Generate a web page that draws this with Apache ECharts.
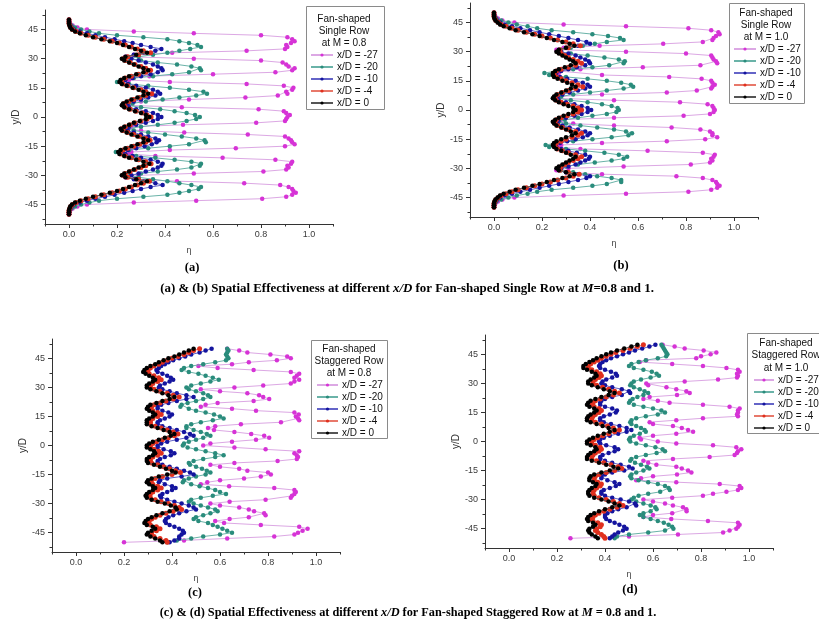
<!DOCTYPE html>
<html><head><meta charset="utf-8">
<script src="https://cdn.jsdelivr.net/npm/echarts@6/dist/echarts.min.js"></script>
<style>html,body{margin:0;padding:0;background:#fff}#c{width:819px;height:627px}</style>
</head><body><div id="c"></div>
<script>
// y/D positions (shared by all series)
const yD = [50,49,48,47,46,45,44,43,42,41,40,39,38,37,36,35,34,33,32,31,30,29,28,27,26,25,24,23,22,21,20,19,18,17,16,15,14,13,12,11,10,9,8,7,6,5,4,3,2,1,0,-1,-2,-3,-4,-5,-6,-7,-8,-9,-10,-11,-12,-13,-14,-15,-16,-17,-18,-19,-20,-21,-22,-23,-24,-25,-26,-27,-28,-29,-30,-31,-32,-33,-34,-35,-36,-37,-38,-39,-40,-41,-42,-43,-44,-45,-46,-47,-48,-49,-50];

const seriesNames = ['x/D = -27','x/D = -20','x/D = -10','x/D = -4','x/D = 0'];
const xTickLabels = [0, 0.2, 0.4, 0.6, 0.8, 1.0];
const xMinorTicks = [-0.1, 0.1, 0.3, 0.5, 0.7, 0.9, 1.1];
const yTickLabels = [-45, -30, -15, 0, 15, 30, 45];
const yMinorTicks = [-52.5, -37.5, -22.5, -7.5, 7.5, 22.5, 37.5, 52.5];

// ---- (a) Single Row, M = 0.8 : eta values at each yD ----
const aBlack = [0,0,0,0.002,0.005,0.012,0.025,0.045,0.07,0.1,
 0.135,0.17,0.2,0.225,0.25,0.275,0.3,0.325,0.28,0.235,
 0.22,0.23,0.25,0.27,0.29,0.31,0.33,0.31,0.28,0.25,
 0.23,0.215,0.21,0.22,0.24,0.265,0.29,0.31,0.33,0.31,
 0.285,0.26,0.24,0.225,0.22,0.23,0.25,0.275,0.3,0.32,
 0.335,
 0.32,0.295,0.27,0.25,0.23,0.215,0.22,0.24,0.26,0.285,
 0.31,0.33,0.31,0.285,0.26,0.235,0.215,0.205,0.21,0.23,
 0.25,0.28,0.31,0.335,0.31,0.29,0.27,0.25,0.23,0.22,
 0.235,0.28,0.325,0.3,0.275,0.25,0.225,0.2,0.17,0.135,
 0.1,0.07,0.045,0.025,0.012,0.005,0.002,0,0,0];
const aRed = [0,0,0,0.003,0.007,0.015,0.03,0.05,0.08,0.11,
 0.145,0.18,0.21,0.235,0.26,0.285,0.31,0.34,0.29,0.245,
 0.225,0.235,0.255,0.275,0.3,0.32,0.34,0.32,0.29,0.26,
 0.235,0.22,0.215,0.225,0.245,0.27,0.3,0.32,0.345,0.32,
 0.295,0.27,0.25,0.23,0.225,0.235,0.255,0.28,0.305,0.325,
 0.342,
 0.325,0.3,0.275,0.255,0.235,0.22,0.225,0.245,0.27,0.295,
 0.32,0.338,0.32,0.295,0.27,0.245,0.225,0.21,0.215,0.235,
 0.26,0.29,0.32,0.342,0.32,0.3,0.275,0.255,0.235,0.225,
 0.245,0.29,0.335,0.31,0.285,0.26,0.235,0.21,0.18,0.145,
 0.11,0.08,0.05,0.03,0.015,0.007,0.003,0,0,0];
const aBlue = [0,0,0.002,0.005,0.01,0.02,0.045,0.075,0.11,0.15,
 0.19,0.23,0.265,0.3,0.34,0.385,0.36,0.31,0.27,0.24,
 0.26,0.29,0.32,0.35,0.37,0.385,0.39,0.37,0.34,0.3,
 0.265,0.235,0.22,0.245,0.28,0.32,0.35,0.37,0.38,0.36,
 0.33,0.3,0.27,0.245,0.23,0.25,0.28,0.32,0.35,0.37,
 0.385,
 0.37,0.35,0.32,0.28,0.25,0.23,0.245,0.27,0.3,0.33,
 0.36,0.375,0.365,0.345,0.315,0.28,0.245,0.22,0.235,0.265,
 0.3,0.34,0.37,0.39,0.385,0.37,0.35,0.32,0.29,0.26,
 0.24,0.27,0.31,0.36,0.39,0.34,0.3,0.265,0.23,0.19,
 0.15,0.11,0.075,0.045,0.02,0.01,0.005,0.002,0,0];
const aTeal = [0,0,0.003,0.01,0.025,0.05,0.085,0.125,0.2,0.31,
 0.41,0.46,0.5,0.535,0.55,0.505,0.46,0.41,0.35,0.29,
 0.255,0.3,0.37,0.45,0.51,0.545,0.55,0.5,0.43,0.35,
 0.27,0.215,0.2,0.25,0.33,0.42,0.5,0.56,0.575,0.53,
 0.46,0.39,0.32,0.265,0.24,0.3,0.38,0.44,0.49,0.525,
 0.545,
 0.53,0.49,0.44,0.37,0.3,0.24,0.27,0.33,0.4,0.47,
 0.53,0.565,0.57,0.5,0.42,0.33,0.25,0.195,0.22,0.28,
 0.36,0.44,0.51,0.55,0.545,0.51,0.45,0.37,0.3,0.255,
 0.29,0.35,0.41,0.46,0.51,0.55,0.54,0.5,0.46,0.41,
 0.31,0.2,0.125,0.085,0.05,0.025,0.01,0.003,0,0];
const aMagenta = [0,0.002,0.005,0.015,0.035,0.075,0.27,0.52,0.8,0.91,
 0.93,0.94,0.925,0.905,0.91,0.9,0.74,0.43,0.27,0.235,
 0.52,0.8,0.89,0.905,0.915,0.94,0.93,0.86,0.6,0.335,
 0.26,0.25,0.42,0.74,0.895,0.935,0.93,0.905,0.91,0.87,
 0.735,0.5,0.3,0.24,0.25,0.47,0.79,0.895,0.905,0.92,
 0.91,
 0.905,0.9,0.78,0.475,0.26,0.22,0.3,0.48,0.745,0.9,
 0.915,0.925,0.93,0.94,0.9,0.695,0.42,0.26,0.25,0.36,
 0.64,0.86,0.93,0.925,0.91,0.915,0.905,0.81,0.52,0.29,
 0.235,0.28,0.45,0.73,0.88,0.915,0.93,0.935,0.945,0.93,
 0.905,0.805,0.53,0.27,0.075,0.035,0.015,0.005,0.002,0];

// ---- (b) Single Row, M = 1.0 ----
const bBlack = [0,0,0,0.002,0.006,0.015,0.025,0.04,0.065,0.09,
 0.125,0.16,0.19,0.22,0.25,0.285,0.315,0.335,0.3,0.27,
 0.26,0.27,0.285,0.3,0.315,0.33,0.34,0.32,0.295,0.27,
 0.255,0.245,0.245,0.25,0.265,0.285,0.305,0.325,0.34,0.32,
 0.3,0.28,0.26,0.25,0.245,0.255,0.27,0.29,0.31,0.33,
 0.34,
 0.33,0.31,0.29,0.27,0.255,0.245,0.25,0.26,0.28,0.3,
 0.32,0.34,0.325,0.3,0.28,0.26,0.25,0.245,0.25,0.26,
 0.28,0.3,0.32,0.34,0.33,0.315,0.3,0.285,0.27,0.26,
 0.27,0.3,0.335,0.315,0.285,0.25,0.22,0.19,0.16,0.125,
 0.09,0.065,0.04,0.025,0.015,0.006,0.002,0,0,0];
const bRed = [0,0,0,0.003,0.008,0.018,0.03,0.05,0.075,0.1,
 0.135,0.17,0.2,0.235,0.265,0.3,0.33,0.36,0.31,0.275,
 0.265,0.28,0.295,0.31,0.33,0.35,0.365,0.34,0.31,0.28,
 0.26,0.25,0.25,0.26,0.28,0.3,0.325,0.35,0.37,0.34,
 0.31,0.285,0.265,0.255,0.25,0.26,0.28,0.305,0.33,0.35,
 0.365,
 0.35,0.33,0.305,0.28,0.26,0.25,0.255,0.265,0.285,0.31,
 0.34,0.365,0.35,0.325,0.3,0.28,0.26,0.25,0.255,0.265,
 0.285,0.31,0.34,0.365,0.35,0.33,0.31,0.295,0.28,0.265,
 0.275,0.31,0.355,0.33,0.3,0.265,0.235,0.2,0.17,0.135,
 0.1,0.075,0.05,0.03,0.018,0.008,0.003,0,0,0];
const bBlue = [0,0,0.002,0.006,0.012,0.025,0.045,0.075,0.11,0.15,
 0.19,0.23,0.27,0.31,0.35,0.385,0.4,0.35,0.3,0.27,
 0.28,0.31,0.34,0.36,0.38,0.395,0.4,0.38,0.345,0.31,
 0.28,0.26,0.255,0.275,0.305,0.34,0.37,0.39,0.4,0.38,
 0.35,0.315,0.285,0.265,0.255,0.27,0.3,0.335,0.365,0.39,
 0.405,
 0.39,0.365,0.335,0.3,0.27,0.255,0.265,0.285,0.315,0.35,
 0.38,0.4,0.39,0.37,0.34,0.305,0.275,0.255,0.26,0.28,
 0.31,0.345,0.38,0.4,0.395,0.38,0.36,0.34,0.31,0.28,
 0.27,0.3,0.35,0.4,0.385,0.35,0.31,0.27,0.23,0.19,
 0.15,0.11,0.075,0.045,0.025,0.012,0.006,0.002,0,0];
const bTeal = [0,0,0.003,0.01,0.03,0.06,0.095,0.14,0.18,0.24,
 0.33,0.41,0.475,0.525,0.54,0.47,0.42,0.37,0.32,0.28,
 0.265,0.32,0.39,0.46,0.52,0.545,0.54,0.48,0.41,0.33,
 0.26,0.21,0.23,0.3,0.39,0.47,0.53,0.57,0.58,0.54,
 0.47,0.4,0.33,0.28,0.265,0.32,0.39,0.45,0.49,0.515,
 0.52,
 0.51,0.47,0.41,0.35,0.295,0.27,0.3,0.36,0.43,0.5,
 0.55,0.575,0.56,0.49,0.41,0.33,0.26,0.215,0.23,0.3,
 0.38,0.46,0.52,0.555,0.54,0.49,0.42,0.35,0.3,0.27,
 0.28,0.33,0.38,0.43,0.49,0.53,0.53,0.47,0.41,0.33,
 0.24,0.18,0.14,0.095,0.06,0.03,0.01,0.003,0,0];
const bMagenta = [0,0.002,0.006,0.016,0.035,0.085,0.29,0.55,0.81,0.905,
 0.935,0.94,0.925,0.915,0.91,0.87,0.705,0.44,0.29,0.26,
 0.55,0.8,0.905,0.91,0.915,0.925,0.93,0.86,0.62,0.36,
 0.275,0.27,0.45,0.73,0.865,0.905,0.91,0.92,0.91,0.905,
 0.845,0.72,0.45,0.28,0.265,0.5,0.775,0.89,0.91,0.915,
 0.92,
 0.915,0.9,0.79,0.5,0.28,0.26,0.33,0.5,0.74,0.86,
 0.9,0.91,0.91,0.93,0.88,0.72,0.45,0.28,0.27,0.36,
 0.64,0.87,0.92,0.915,0.905,0.91,0.9,0.82,0.54,0.31,
 0.26,0.3,0.45,0.76,0.87,0.91,0.925,0.93,0.94,0.93,
 0.905,0.81,0.55,0.29,0.085,0.035,0.016,0.006,0.002,0];

// ---- (c) Staggered Row, M = 0.8 ----
const cBlack = [0.49,0.47,0.45,0.43,0.41,0.385,0.365,0.345,0.33,0.31,
 0.295,0.285,0.28,0.29,0.305,0.32,0.33,0.32,0.305,0.295,
 0.295,0.31,0.335,0.36,0.385,0.41,0.39,0.36,0.335,0.31,
 0.3,0.295,0.305,0.32,0.33,0.32,0.305,0.295,0.295,0.295,
 0.315,0.34,0.365,0.39,0.41,0.395,0.37,0.345,0.32,0.305,
 0.295,
 0.295,0.31,0.325,0.33,0.32,0.305,0.295,0.295,0.3,0.325,
 0.35,0.375,0.4,0.415,0.38,0.345,0.315,0.3,0.295,0.305,
 0.32,0.33,0.32,0.305,0.295,0.29,0.295,0.315,0.34,0.37,
 0.395,0.415,0.42,0.39,0.36,0.335,0.315,0.3,0.29,0.285,
 0.295,0.32,0.33,0.315,0.3,0.295,0.31,0.33,0.35,0.36];
const cRed = [0.515,0.49,0.47,0.45,0.425,0.4,0.38,0.36,0.345,0.325,
 0.31,0.3,0.295,0.305,0.325,0.345,0.355,0.34,0.32,0.31,
 0.31,0.325,0.35,0.38,0.405,0.43,0.405,0.375,0.35,0.325,
 0.315,0.31,0.32,0.34,0.355,0.34,0.32,0.31,0.31,0.31,
 0.33,0.355,0.38,0.405,0.425,0.41,0.385,0.36,0.335,0.32,
 0.31,
 0.31,0.325,0.345,0.355,0.34,0.32,0.31,0.31,0.315,0.34,
 0.365,0.39,0.415,0.435,0.4,0.36,0.33,0.315,0.31,0.32,
 0.34,0.355,0.34,0.32,0.31,0.305,0.31,0.33,0.355,0.385,
 0.41,0.43,0.44,0.405,0.375,0.35,0.33,0.315,0.305,0.3,
 0.31,0.335,0.35,0.335,0.315,0.31,0.325,0.35,0.375,0.38];
const cBlue = [0.565,0.54,0.515,0.48,0.455,0.43,0.405,0.385,0.37,0.355,
 0.345,0.335,0.34,0.36,0.38,0.395,0.405,0.39,0.37,0.35,
 0.345,0.36,0.39,0.42,0.46,0.49,0.46,0.42,0.385,0.355,
 0.34,0.34,0.36,0.385,0.4,0.39,0.37,0.35,0.34,0.34,
 0.36,0.39,0.42,0.45,0.475,0.49,0.46,0.42,0.38,0.355,
 0.34,
 0.34,0.365,0.395,0.41,0.395,0.37,0.35,0.34,0.34,0.36,
 0.39,0.42,0.45,0.475,0.49,0.44,0.38,0.35,0.345,0.37,
 0.4,0.415,0.4,0.38,0.36,0.35,0.355,0.38,0.41,0.44,
 0.47,0.49,0.5,0.46,0.43,0.405,0.385,0.375,0.37,0.375,
 0.39,0.41,0.43,0.445,0.45,0.44,0.43,0.43,0.41,0.39];
const cTeal = [0.63,0.635,0.63,0.625,0.63,0.635,0.625,0.58,0.53,0.48,
 0.45,0.44,0.47,0.51,0.54,0.57,0.595,0.56,0.52,0.48,
 0.46,0.47,0.5,0.53,0.55,0.56,0.53,0.5,0.465,0.44,
 0.435,0.47,0.5,0.54,0.575,0.6,0.615,0.57,0.52,0.48,
 0.46,0.46,0.49,0.52,0.545,0.56,0.53,0.5,0.47,0.45,
 0.445,
 0.465,0.5,0.54,0.58,0.615,0.58,0.53,0.49,0.47,0.475,
 0.5,0.525,0.545,0.56,0.54,0.5,0.47,0.45,0.445,0.48,
 0.515,0.55,0.58,0.6,0.625,0.57,0.52,0.48,0.47,0.49,
 0.52,0.55,0.58,0.59,0.56,0.53,0.5,0.49,0.51,0.55,
 0.57,0.59,0.61,0.63,0.65,0.6,0.53,0.48,0.42,0.38];
const cMagenta = [0.63,0.68,0.714,0.81,0.88,0.895,0.837,0.72,0.65,0.51,
 0.59,0.74,0.895,0.93,0.92,0.91,0.93,0.91,0.895,0.78,
 0.66,0.52,0.6,0.714,0.763,0.78,0.805,0.74,0.59,0.54,
 0.52,0.65,0.75,0.91,0.928,0.916,0.925,0.93,0.854,0.687,
 0.58,0.55,0.575,0.66,0.73,0.784,0.805,0.75,0.65,0.56,
 0.53,
 0.66,0.79,0.93,0.91,0.92,0.925,0.92,0.84,0.66,0.56,
 0.6,0.68,0.714,0.8,0.812,0.77,0.7,0.6,0.547,0.52,
 0.638,0.826,0.91,0.916,0.91,0.9,0.895,0.79,0.64,0.56,
 0.6,0.68,0.72,0.742,0.784,0.79,0.72,0.64,0.58,0.617,
 0.77,0.93,0.965,0.944,0.925,0.91,0.826,0.63,0.45,0.2];

// ---- (d) Staggered Row, M = 1.0 ----
const dBlack = [0.535,0.51,0.48,0.45,0.425,0.405,0.385,0.365,0.35,0.335,
 0.32,0.31,0.31,0.325,0.345,0.36,0.365,0.355,0.34,0.33,
 0.33,0.345,0.37,0.395,0.42,0.44,0.415,0.385,0.36,0.34,
 0.33,0.325,0.335,0.355,0.365,0.355,0.34,0.33,0.325,0.325,
 0.34,0.365,0.39,0.415,0.44,0.42,0.395,0.37,0.35,0.335,
 0.325,
 0.325,0.34,0.36,0.365,0.355,0.34,0.33,0.325,0.325,0.345,
 0.375,0.405,0.435,0.455,0.42,0.385,0.355,0.34,0.335,0.335,
 0.35,0.365,0.36,0.345,0.335,0.33,0.33,0.335,0.355,0.385,
 0.415,0.44,0.46,0.43,0.4,0.375,0.355,0.34,0.33,0.325,
 0.33,0.35,0.36,0.35,0.335,0.33,0.335,0.345,0.36,0.37];
const dRed = [0.56,0.535,0.505,0.475,0.445,0.425,0.405,0.385,0.37,0.355,
 0.34,0.33,0.33,0.345,0.365,0.38,0.385,0.375,0.36,0.35,
 0.35,0.365,0.39,0.415,0.44,0.46,0.435,0.405,0.38,0.36,
 0.35,0.345,0.355,0.375,0.385,0.375,0.36,0.35,0.345,0.345,
 0.36,0.385,0.41,0.435,0.46,0.44,0.415,0.39,0.37,0.355,
 0.345,
 0.345,0.36,0.38,0.385,0.375,0.36,0.35,0.345,0.345,0.365,
 0.395,0.425,0.455,0.47,0.44,0.405,0.375,0.36,0.355,0.355,
 0.37,0.385,0.38,0.365,0.355,0.35,0.35,0.355,0.375,0.405,
 0.435,0.46,0.475,0.45,0.42,0.395,0.375,0.36,0.35,0.345,
 0.35,0.37,0.385,0.38,0.365,0.36,0.37,0.385,0.395,0.4];
const dBlue = [0.61,0.585,0.555,0.525,0.5,0.475,0.45,0.425,0.405,0.39,
 0.38,0.375,0.38,0.4,0.425,0.445,0.45,0.43,0.405,0.39,
 0.385,0.4,0.43,0.47,0.5,0.505,0.47,0.43,0.4,0.385,
 0.38,0.38,0.4,0.43,0.45,0.445,0.42,0.395,0.38,0.38,
 0.395,0.425,0.46,0.49,0.51,0.49,0.455,0.42,0.395,0.38,
 0.375,
 0.38,0.405,0.44,0.455,0.44,0.415,0.39,0.38,0.38,0.4,
 0.43,0.465,0.5,0.515,0.48,0.43,0.4,0.385,0.385,0.41,
 0.44,0.46,0.445,0.42,0.395,0.385,0.385,0.4,0.43,0.465,
 0.5,0.525,0.53,0.49,0.455,0.43,0.41,0.4,0.4,0.405,
 0.42,0.44,0.46,0.48,0.49,0.475,0.455,0.44,0.43,0.42];
const dTeal = [0.635,0.64,0.645,0.65,0.655,0.66,0.655,0.62,0.57,0.54,
 0.51,0.5,0.52,0.56,0.595,0.615,0.625,0.59,0.55,0.52,
 0.51,0.505,0.52,0.545,0.565,0.58,0.56,0.535,0.515,0.505,
 0.5,0.52,0.56,0.6,0.635,0.65,0.62,0.57,0.53,0.51,
 0.505,0.51,0.53,0.55,0.565,0.57,0.545,0.52,0.505,0.5,
 0.505,
 0.53,0.57,0.61,0.64,0.65,0.615,0.57,0.53,0.51,0.505,
 0.525,0.55,0.575,0.585,0.56,0.53,0.51,0.505,0.51,0.54,
 0.58,0.62,0.65,0.665,0.67,0.63,0.58,0.54,0.52,0.51,
 0.53,0.56,0.59,0.61,0.615,0.59,0.56,0.545,0.56,0.59,
 0.62,0.645,0.665,0.68,0.685,0.65,0.58,0.5,0.45,0.44];
const dMagenta = [0.64,0.69,0.732,0.811,0.864,0.84,0.8,0.78,0.572,0.545,
 0.68,0.808,0.906,0.954,0.961,0.95,0.954,0.95,0.871,0.732,
 0.572,0.58,0.656,0.697,0.739,0.753,0.7,0.586,0.56,0.62,
 0.669,0.808,0.919,0.961,0.954,0.954,0.95,0.954,0.808,0.697,
 0.586,0.6,0.683,0.72,0.746,0.767,0.697,0.6,0.544,0.55,
 0.62,
 0.697,0.85,0.947,0.968,0.954,0.95,0.94,0.836,0.683,0.56,
 0.58,0.614,0.697,0.72,0.746,0.76,0.7,0.6,0.55,0.53,
 0.697,0.878,0.961,0.968,0.954,0.906,0.85,0.808,0.68,0.56,
 0.6,0.65,0.683,0.725,0.739,0.74,0.68,0.6,0.56,0.676,
 0.829,0.954,0.961,0.955,0.947,0.919,0.892,0.704,0.5,0.256];

// ---------- layout / style ----------
const dotColors  = ['#d633d6','#2a8c7c','#14149e','#e0301e','#000000'];
const lineColors = ['#dca8e4','#6ab3a8','#6464c8','#e8786a','#555555'];
const dotSizes   = [4.5, 4.5, 4.5, 5, 4.5];

const panels = [
  { grid:{left:45, top:10, width:288, height:214}, yGap:15,
    data:[aMagenta,aTeal,aBlue,aRed,aBlack],
    box:[306,6,78,103], headX:344, headY:[19,31,43],
    head:['Fan-shaped','Single Row','at M = 0.8'],
    legend:{left:310, top:50, itemWidth:22} },
  { grid:{left:470, top:3, width:288, height:214}, yGap:18,
    data:[bMagenta,bTeal,bBlue,bRed,bBlack],
    box:[729,3,75,100], headX:766, headY:[13,25,37],
    head:['Fan-shaped','Single Row','at M = 1.0'],
    legend:{left:733, top:44, itemWidth:22} },
  { grid:{left:52, top:339, width:288, height:213}, yGap:19,
    data:[cMagenta,cTeal,cBlue,cRed,cBlack],
    box:[311,340,76,98], headX:349, headY:[349,361,373],
    head:['Fan-shaped','Staggered Row','at M = 0.8'],
    legend:{left:316, top:380, itemWidth:21} },
  { grid:{left:485, top:335, width:288, height:213}, yGap:17,
    data:[dMagenta,dTeal,dBlue,dRed,dBlack],
    box:[747,333,90,100], headX:786, headY:[343,355,368],
    head:['Fan-shaped','Staggered Row','at M = 1.0'],
    legend:{left:753, top:375, itemWidth:20} }
];

const axisCol = '#333';
const grids = [], xAxes = [], yAxes = [], series = [], legends = [], graphics = [];
panels.forEach((p, k) => {
  grids.push(p.grid);
  xAxes.push({
    type:'value', gridIndex:k, min:-0.1, max:1.1, position:'bottom',
    axisLine:{show:true, onZero:false, lineStyle:{color:axisCol, width:1}},
    axisTick:{show:true, customValues:xTickLabels, length:4, lineStyle:{color:axisCol}},
    axisLabel:{customValues:xTickLabels, formatter:v=>Number(v).toFixed(1), fontSize:9, color:'#3a3a3a', margin:6, fontFamily:'Liberation Sans'},
    splitLine:{show:false},
    name:'η', nameLocation:'middle', nameGap:22, nameTextStyle:{fontSize:9, color:'#444', fontFamily:'Liberation Sans'}
  });
  xAxes.push({
    type:'value', gridIndex:k, min:-0.1, max:1.1, position:'bottom',
    axisLine:{show:false, onZero:false},
    axisTick:{show:true, customValues:xMinorTicks, length:2.5, lineStyle:{color:axisCol}},
    axisLabel:{show:false}, splitLine:{show:false}
  });
  yAxes.push({
    type:'value', gridIndex:k, min:-55, max:55, position:'left',
    axisLine:{show:true, onZero:false, lineStyle:{color:axisCol, width:1}},
    axisTick:{show:true, customValues:yTickLabels, length:4, lineStyle:{color:axisCol}},
    axisLabel:{customValues:yTickLabels, fontSize:9, color:'#3a3a3a', margin:7, fontFamily:'Liberation Sans'},
    splitLine:{show:false},
    name:'y/D', nameLocation:'middle', nameGap:p.yGap, nameTextStyle:{fontSize:10, color:'#333', fontFamily:'Liberation Sans'}
  });
  yAxes.push({
    type:'value', gridIndex:k, min:-55, max:55, position:'left',
    axisLine:{show:false, onZero:false},
    axisTick:{show:true, customValues:yMinorTicks, length:2.5, lineStyle:{color:axisCol}},
    axisLabel:{show:false}, splitLine:{show:false}
  });
  p.data.forEach((xs, s) => {
    series.push({
      type:'line', name:seriesNames[s], xAxisIndex:2*k, yAxisIndex:2*k,
      data: xs.map((x, i) => [x, yD[i]]),
      symbol:'circle', symbolSize:dotSizes[s], showSymbol:true,
      itemStyle:{color:dotColors[s]},
      lineStyle:{color:lineColors[s], width:1},
      z: 2 + s, animation:false, silent:true
    });
  });
  legends.push({
    show:true, orient:'vertical', left:p.legend.left, top:p.legend.top,
    padding:0, itemGap:2, itemWidth:p.legend.itemWidth, itemHeight:4,
    selectedMode:false, data:seriesNames,
    textStyle:{fontSize:10, lineHeight:10, color:'#111', fontFamily:'Liberation Sans', padding:[0,0,0,-1]}
  });
  graphics.push({type:'rect', shape:{x:p.box[0]+0.5, y:p.box[1]+0.5, width:p.box[2], height:p.box[3]},
    style:{fill:'rgba(255,255,255,0)', stroke:'#8a8a8a', lineWidth:1}, z:1});
  p.head.forEach((t, j) => {
    graphics.push({type:'text', x:p.headX, y:p.headY[j],
      style:{text:t, fill:'#111', font:'10px "Liberation Sans"', textAlign:'center', textVerticalAlign:'middle'}, z:5});
  });
});

// panel letters and captions
const boldL = 'bold 12.5px "Liberation Serif"';
[['(a)',192,268],['(b)',621,266],['(c)',195,593],['(d)',630,590]].forEach(([t,x,y]) => {
  graphics.push({type:'text', x:x, y:y, style:{text:t, fill:'#000', font:boldL, textAlign:'center', textVerticalAlign:'middle'}});
});
const b1 = 'bold 12.9px "Liberation Serif"', i1 = 'italic bold 12.9px "Liberation Serif"';
graphics.push({type:'text', x:407, y:289, style:{
  text:'{b|(a) & (b) Spatial Effectiveness at different }{i|x/D}{b| for Fan-shaped Single Row at }{i|M}{b|=0.8 and 1.}',
  rich:{b:{font:b1, fill:'#000'}, i:{font:i1, fill:'#000'}},
  textAlign:'center', textVerticalAlign:'middle'}});
const b2 = 'bold 12.3px "Liberation Serif"', i2 = 'italic bold 12.3px "Liberation Serif"';
graphics.push({type:'text', x:408, y:613, style:{
  text:'{b|(c) & (d) Spatial Effectiveness at different }{i|x/D}{b| for Fan-shaped Staggered Row at }{i|M}{b| = 0.8 and 1.}',
  rich:{b:{font:b2, fill:'#000'}, i:{font:i2, fill:'#000'}},
  textAlign:'center', textVerticalAlign:'middle'}});

const chart = echarts.init(document.getElementById('c'), null, {renderer:'canvas', width:819, height:627});
chart.setOption({
  backgroundColor:'#ffffff',
  animation:false,
  textStyle:{fontFamily:'Liberation Sans'},
  grid:grids, xAxis:xAxes, yAxis:yAxes, series:series, legend:legends,
  graphic:{elements:graphics}
});
</script></body></html>
